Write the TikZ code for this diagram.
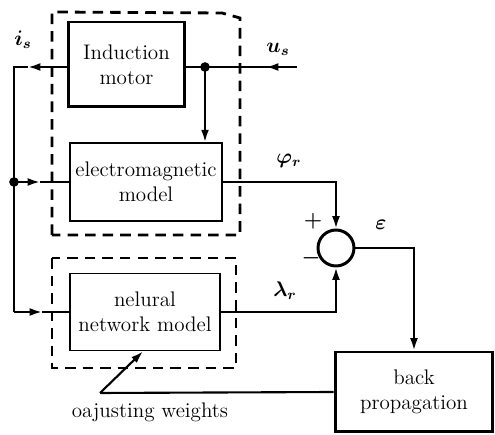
\documentclass[tikz,border=0pt]{standalone}
\usepackage{amsmath}
\usepackage{amssymb}
\usetikzlibrary{arrows.meta, positioning, calc}

\begin{document}
\begin{tikzpicture}[
    x=0.02cm, y=-0.02cm,
    % --- STYLES ---
    block/.style={draw, line width=1.7pt, align=center, font=\large, inner sep=0pt},
    model/.style={draw, line width=1pt, align=center, font=\large, inner sep=0pt},
    frame/.style={draw, line width=1.6pt, dash pattern=on 6pt off 4pt},
    sig/.style={line width=1.2pt},
    arrow/.style={sig, -{Latex[length=7pt, width=4.5pt]}},
    junction/.style={circle, fill, inner sep=0pt, minimum size=5.5pt},
    symbol/.style={inner sep=1pt, font=\large}
]
    \useasboundingbox (0,0) rectangle (495,435);

    % --- NODES ---
    \node[block, minimum width=2.34cm, minimum height=1.7cm] (motor) at (126.5,64.5) {Induction\\motor};
    \node[model, minimum width=3.04cm, minimum height=1.56cm] (em) at (146,182) {electromagnetic\\model};
    \node[model, minimum width=3.0cm, minimum height=1.54cm] (nn) at (145,312) {nelural\\network model};
    \node[draw, circle, line width=1.7pt, minimum size=0.72cm, inner sep=0pt] (sum) at (336,248) {};
    \node[block, minimum width=3.16cm, minimum height=1.6cm] (bp) at (414,392) {back\\propagation};

    % junctions and free ends
    \coordinate (mj) at (205,67);
    \coordinate (us) at (297,67);
    \coordinate (usarr) at (266,67);
    \coordinate (lt) at (14,67);
    \coordinate (isarr) at (28,67);
    \coordinate (lm) at (14,182);
    \coordinate (lb) at (14,312);
    \coordinate (emarr) at (40,182);
    \coordinate (nnarr) at (42,312);
    \coordinate (aw) at (100,393);
    \node[junction] (dotm) at (mj) {};
    \node[junction] (dotl) at (lm) {};

    % --- DASHED FRAMES ---
    \draw[frame] (52,235) -- (52,12) -- (222,13) -- (240,18) -- (240,235) -- cycle;
    \draw[frame] (52,258) rectangle (236,368);

    % --- SIGNALS ---
    \draw[sig] (motor.east |- mj) -- (us);
    \draw[arrow] (us) -- (usarr);
    \draw[arrow] (mj) -- (mj |- em.north);

    \draw[arrow] (motor.west |- lt) -- (isarr);
    \draw[sig] (isarr) -- (lt) -- (lb);
    \draw[arrow] (lm) -- (emarr);
    \draw[sig] (emarr) -- (em.west);
    \draw[arrow] (lb) -- (nnarr);
    \draw[sig] (nnarr) -- (nn.west);

    \draw[arrow] (em.east) -| (sum.north);
    \draw[arrow] (nn.east) -| (sum.south);
    \draw[arrow] (sum.east) -| (bp.north);

    \draw[sig] (bp.west) -- (aw);
    \draw[arrow] (aw) -- ($(nn.south)+(-2,0)$);

    % --- LABELS ---
    \node[symbol] (lis) at (23,40) {$\boldsymbol{i_s}$};
    \node[symbol] (lus) at (278,49) {$\boldsymbol{u_s}$};
    \node[symbol] (lphi) at (289,161) {$\boldsymbol{\varphi_r}$};
    \node[symbol] (llam) at (285,291) {$\boldsymbol{\lambda_r}$};
    \node[symbol] (leps) at (381,225) {$\boldsymbol{\varepsilon}$};
    \node[symbol] (lplus) at (313,221) {$\boldsymbol{+}$};
    \node[symbol] (lminus) at (311,258) {$\boldsymbol{-}$};
    \node[font=\large] (law) at (150,412) {oajusting weights};
\end{tikzpicture}
\end{document}
